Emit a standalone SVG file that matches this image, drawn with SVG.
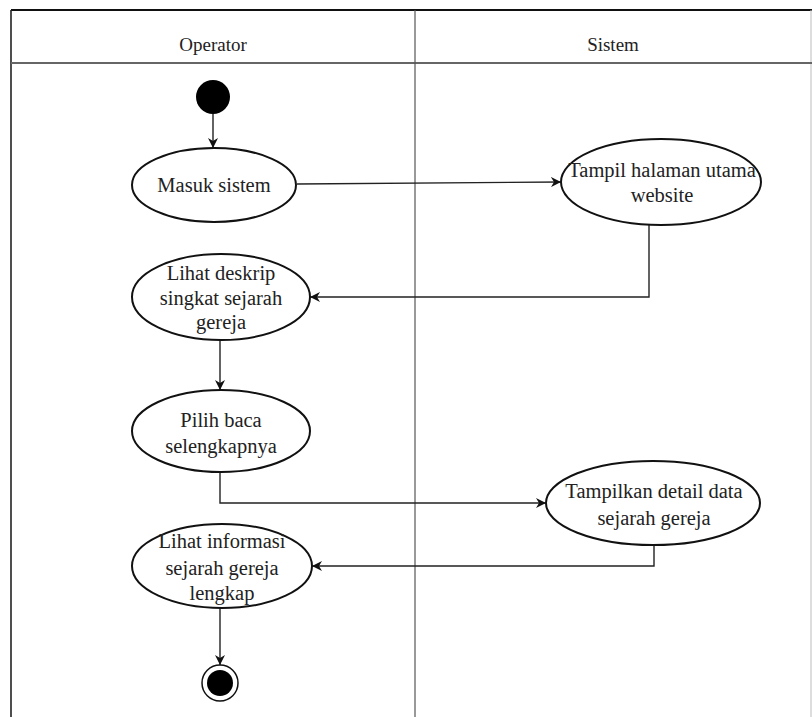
<svg xmlns="http://www.w3.org/2000/svg" width="812" height="717" viewBox="0 0 812 717">
<defs>
<marker id="arr" viewBox="0 0 10 10" refX="10" refY="5" markerWidth="10" markerHeight="10" markerUnits="userSpaceOnUse" orient="auto">
<path d="M0,0 L10,5 L0,10 L3,5 Z" fill="#111"/>
</marker>
<style>
.lane{stroke:#555;stroke-width:1.2;fill:none}
.act{fill:#fff;stroke:#111;stroke-width:2}
.t{font-family:'Liberation Serif','DejaVu Serif',serif;font-size:20.5px;fill:#222;text-anchor:middle}
.h{font-family:'Liberation Serif','DejaVu Serif',serif;font-size:19px;fill:#222;text-anchor:middle}
.c{stroke:#222;stroke-width:1.4;fill:none;marker-end:url(#arr)}
</style>
</defs>
<rect width="812" height="717" fill="#fff"/>
<g id="swimlanes">
<line x1="11" y1="10" x2="812" y2="10" stroke="#111" stroke-width="2"/>
<line x1="11" y1="10" x2="11" y2="717" stroke="#222" stroke-width="1.6"/>
<line x1="811" y1="10" x2="811" y2="717" stroke="#bbb" stroke-width="1"/>
<line x1="11" y1="63" x2="812" y2="63" stroke="#666" stroke-width="2"/>
<line x1="415" y1="10" x2="415" y2="717" class="lane"/>
<text class="h" x="213" y="51" font-family="Liberation Serif, serif">Operator</text>
<text class="h" x="613" y="51" font-family="Liberation Serif, serif">Sistem</text>
</g>
<g id="connectors">
<line class="c" x1="213" y1="114" x2="213" y2="148"/>
<line class="c" x1="297" y1="184" x2="561" y2="182"/>
<polyline class="c" points="649,225 649,297 310,297"/>
<line class="c" x1="220" y1="340" x2="220" y2="390"/>
<polyline class="c" points="220,472 220,503 546,503"/>
<polyline class="c" points="654,545 654,566 312,566"/>
<line class="c" x1="220" y1="608" x2="220" y2="665"/>
</g>
<g id="start"><circle cx="213" cy="97" r="17" fill="#000"/></g>
<g id="masuk-sistem">
<ellipse class="act" cx="214" cy="185" rx="82" ry="37"/>
<text class="t" x="214" y="192">Masuk sistem</text>
</g>
<g id="tampil-halaman">
<ellipse class="act" cx="661" cy="182" rx="100" ry="43"/>
<text class="t" x="662" y="177">Tampil halaman utama</text>
<text class="t" x="662" y="202">website</text>
</g>
<g id="lihat-deskrip">
<ellipse class="act" cx="221" cy="297" rx="89" ry="43"/>
<text class="t" x="221" y="280">Lihat deskrip</text>
<text class="t" x="221" y="305">singkat sejarah</text>
<text class="t" x="221" y="329">gereja</text>
</g>
<g id="pilih-baca">
<ellipse class="act" cx="221" cy="431" rx="89" ry="41"/>
<text class="t" x="221" y="427">Pilih baca</text>
<text class="t" x="221" y="453">selengkapnya</text>
</g>
<g id="tampilkan-detail">
<ellipse class="act" cx="653" cy="503" rx="107" ry="42"/>
<text class="t" x="654" y="498">Tampilkan detail data</text>
<text class="t" x="654" y="525">sejarah gereja</text>
</g>
<g id="lihat-informasi">
<ellipse class="act" cx="222" cy="566" rx="90" ry="42"/>
<text class="t" x="222" y="548">Lihat informasi</text>
<text class="t" x="222" y="575">sejarah gereja</text>
<text class="t" x="222" y="600">lengkap</text>
</g>
<g id="end">
<circle cx="220" cy="683" r="18" fill="#fff" stroke="#111" stroke-width="1.5"/>
<circle cx="220" cy="683" r="13" fill="#000"/>
</g>
</svg>
